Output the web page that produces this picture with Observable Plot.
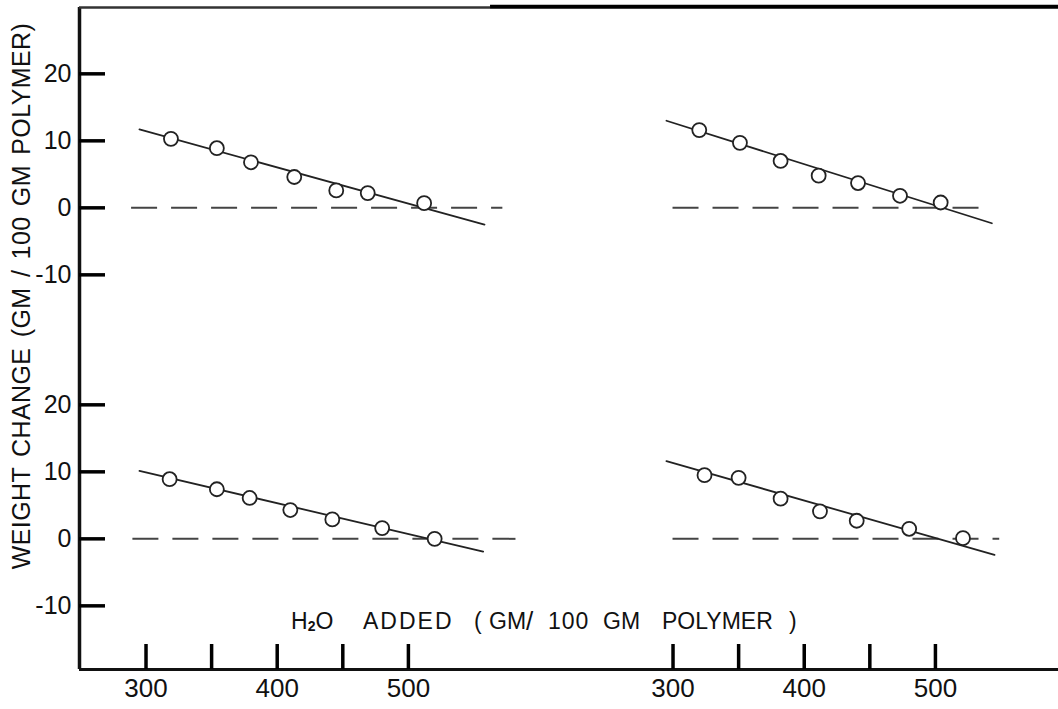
<!DOCTYPE html>
<html>
<head>
<meta charset="utf-8">
<script src="https://cdn.jsdelivr.net/npm/d3@7"></script>
<script src="https://cdn.jsdelivr.net/npm/@observablehq/plot@0.6"></script>
<style>
  html, body { margin: 0; padding: 0; background: #fff; overflow: hidden; }
  #wrap { position: relative; width: 1058px; height: 709px; font-family: "Liberation Sans", Arial, sans-serif; color: #111; }
  #left, #right { position: absolute; top: 0; }
  #left { left: 0; }
  #right { left: 606px; }
  .ylab { position: absolute; left: 21px; top: 296px; transform: translate(-50%, -50%) rotate(-90deg);
          white-space: nowrap; font-size: 25px; word-spacing: 3px; letter-spacing: 0.4px; }
  .xlab { position: absolute; left: 0; top: 610px; width: 1058px; height: 26px; font-size: 23px; line-height: 1; }
  .xlab span { position: absolute; top: 0; white-space: nowrap; }
  .xlab sub { font-size: 14px; font-weight: bold; vertical-align: -2px; }
</style>
</head>
<body>
<div id="wrap">
  <div id="left"></div>
  <div id="right"></div>
  <div class="ylab">WEIGHT CHANGE (GM / 100 GM POLYMER)</div>
  <div class="xlab"><span style="left:291px">H<sub>2</sub>O</span><span style="left:363px;letter-spacing:2px">ADDED</span><span style="left:474px">(</span><span style="left:489px">GM</span><span style="left:526px;font-size:26px;top:-2px">/</span><span style="left:548px;letter-spacing:1px">100</span><span style="left:603px">GM</span><span style="left:662px">POLYMER</span><span style="left:789px">)</span></div>
</div>
<script>
// ---- data ----
const rows = ["top", "bottom"];
const xTicks = [300, 350, 400, 450, 500];
const xTickLabels = [300, 400, 500];
const yTicks = [20, 10, 0, -10];

// top-left panel
const tlX = [319, 354, 380, 413, 445, 469, 512];
const tlY = [10.3, 8.9, 6.8, 4.6, 2.6, 2.2, 0.7];
const tlFitX = [295, 558];
const tlFitY = [11.7, -2.5];
const tlZero = [289, 572];
// top-right panel
const trX = [320, 351, 382, 411, 441, 473, 504];
const trY = [11.6, 9.7, 7.0, 4.8, 3.7, 1.8, 0.8];
const trFitX = [295, 543];
const trFitY = [13.0, -2.3];
const trZero = [300, 536];
// bottom-left panel
const blX = [318, 354, 379, 410, 442, 480, 520];
const blY = [8.9, 7.4, 6.1, 4.3, 2.9, 1.6, 0.0];
const blFitX = [295, 557];
const blFitY = [10.15, -1.9];
const blZero = [290, 582];
// bottom-right panel
const brX = [324, 350, 382, 412, 440, 480, 521];
const brY = [9.5, 9.1, 6.0, 4.1, 2.7, 1.5, 0.1];
const brFitX = [295, 545];
const brFitY = [11.6, -2.4];
const brZero = [300, 549];

// axis extents
const xMin = 249.3;
const xMaxLeft = 651;
const xMaxRight = 593.8;
const yMin = -19.5;
const yMax = 29.9;
const topBorderSplit = 562.6; // where the scanned top border turns heavier

// ---- tables ----
const panels = [
  {col: "left", row: "top", X: tlX, Y: tlY, fx: tlFitX, fy: tlFitY, z: tlZero},
  {col: "right", row: "top", X: trX, Y: trY, fx: trFitX, fy: trFitY, z: trZero},
  {col: "left", row: "bottom", X: blX, Y: blY, fx: blFitX, fy: blFitY, z: blZero},
  {col: "right", row: "bottom", X: brX, Y: brY, fx: brFitX, fy: brFitY, z: brZero}
];
const points = panels.flatMap(p => p.X.map((x, i) => ({col: p.col, row: p.row, x, y: p.Y[i]})));
const fits = panels.flatMap(p => p.fx.map((x, i) => ({col: p.col, row: p.row, x, y: p.fy[i]})));
const zeros = panels.map(p => ({col: p.col, row: p.row, x1: p.z[0], x2: p.z[1], v: 0}));

const H = 709, MT = 7, MB = 40;
const facetH = (H - MT - MB) / 2;

function chart(col) {
  const isLeft = col === "left";
  const width = isLeft ? 606 : 452;
  const marginLeft = isLeft ? 79 : 0;
  const facetW = width - marginLeft;
  const xMax = isLeft ? xMaxLeft : xMaxRight;
  const topBorder = isLeft
    ? [{row: "top", v: yMax, x1: xMin, x2: topBorderSplit, w: 2.5, c: "#333"},
       {row: "top", v: yMax + 0.1, x1: topBorderSplit, x2: xMax, w: 4, c: "#000"}]
    : [{row: "top", v: yMax + 0.1, x1: xMin, x2: xMax, w: 4, c: "#000"}];
  const marks = [
    // bottom border
    Plot.ruleY([{row: "bottom", v: yMin}], {y: "v", fy: "row", stroke: "#111", strokeWidth: 3}),
    // top border
    Plot.ruleY(topBorder, {y: "v", x1: "x1", x2: "x2", fy: "row", stroke: d => d.c, strokeWidth: d => d.w}),
    // x tick marks (inward)
    Plot.ruleX(xTicks.map(v => ({v, row: "bottom"})), {x: "v", fy: "row", insetTop: facetH - 25, stroke: "#000", strokeWidth: 3.5}),
    Plot.axisX(xTickLabels, {anchor: "bottom", tickSize: 0, tickPadding: 9, fontSize: 26, label: null, tickFormat: d => String(d), fill: "#111"}),
    // zero dashed lines
    Plot.ruleY(zeros.filter(d => d.col === col), {y: "v", x1: "x1", x2: "x2", fy: "row", stroke: "#444", strokeWidth: 2, strokeDasharray: "26,14"}),
    // fitted lines
    Plot.line(fits.filter(d => d.col === col), {x: "x", y: "y", z: "row", fy: "row", stroke: "#222", strokeWidth: 1.8}),
    // data points
    Plot.dot(points.filter(d => d.col === col), {x: "x", y: "y", fy: "row", r: 7, fill: "white", stroke: "#222", strokeWidth: 1.8})
  ];
  if (isLeft) {
    marks.unshift(
      Plot.ruleX([xMin], {stroke: "#111", strokeWidth: 3.5}),
      Plot.tickY(yTicks, {y: d => d, insetRight: facetW - 26, stroke: "#000", strokeWidth: 3.5}),
      Plot.axisY(yTicks, {anchor: "left", tickSize: 0, tickPadding: 8, fontSize: 25, label: null, tickFormat: d => String(d), fill: "#111"})
    );
  }
  return Plot.plot({
    width,
    height: H,
    marginTop: MT,
    marginBottom: MB,
    marginLeft,
    marginRight: 0,
    x: {domain: [xMin, xMax]},
    y: {domain: [yMin, yMax], axis: isLeft ? undefined : null},
    stroke: {type: "identity"},
    fy: {domain: rows, padding: 0, axis: null},
    style: {fontFamily: '"Liberation Sans", Arial, sans-serif', background: "transparent", overflow: "visible", color: "#111"},
    marks
  });
}

document.getElementById("left").appendChild(chart("left"));
document.getElementById("right").appendChild(chart("right"));
</script>
</body>
</html>
